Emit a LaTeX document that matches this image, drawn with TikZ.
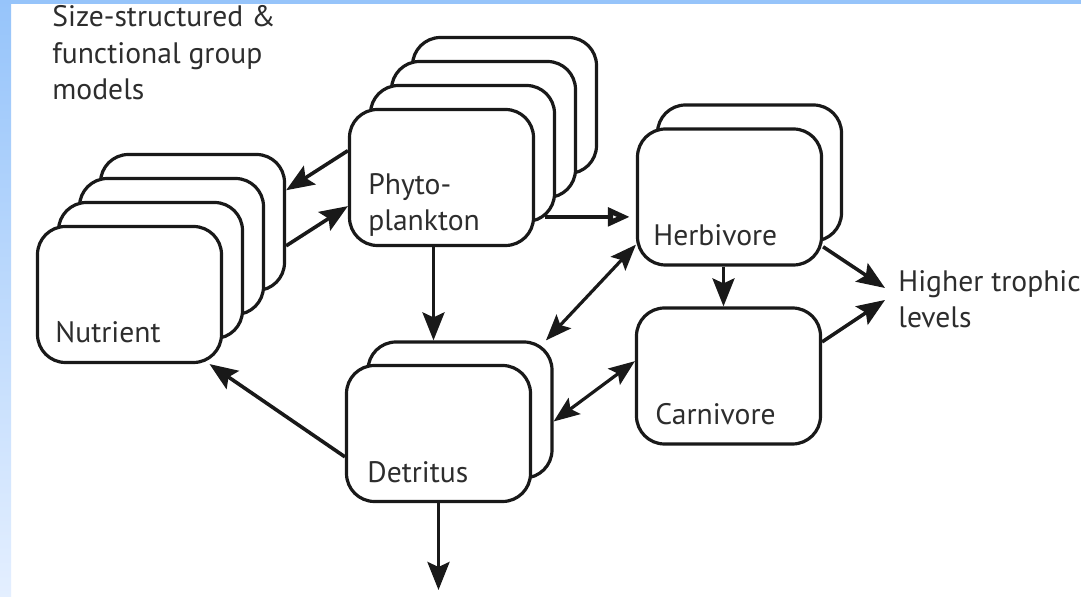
\documentclass[tikz,border=0pt]{standalone}
\usepackage{fontspec}
\setmainfont{PT Sans}
\usetikzlibrary{arrows.meta,calc}

\definecolor{slideblue}{RGB}{150,196,250}
\definecolor{slidepale}{RGB}{228,239,255}
\definecolor{inkgray}{RGB}{45,45,45}

\begin{document}
\begin{tikzpicture}[x=0.5pt, y=-0.5pt,
    card/.style={draw=black!90, fill=white, line width=1.6pt, rounded corners=14pt,
      minimum width=92pt, minimum height=68pt},
    lbl/.style={inner sep=0pt, text=inkgray, font=\fontsize{14.8}{18.3}\selectfont},
    arr/.style={line width=1.8pt, draw=black!90, -{Stealth[length=14pt, width=11pt, inset=2.5pt]}},
    darr/.style={line width=1.6pt, draw=black!90, {Stealth[length=13pt, width=10pt, inset=2.5pt]}-{Stealth[length=13pt, width=10pt, inset=2.5pt]}},
    oarr/.style={line width=1.9pt, draw=black!90, -{Triangle[open, length=11pt, width=9pt, line width=2.6pt]}}]
  % slide frame
  \useasboundingbox (0,0) rectangle (1081,597);
  \fill[white] (0,0) rectangle (1081,597);
  \shade[top color=slideblue, bottom color=slidepale] (0,0) rectangle (11,597);
  \fill[slideblue] (0,0) rectangle (1081,4);

  % nutrient stack
  \node[card] (nut3) at (192.5,222.5) {};
  \node[card] (nut2) at (171.5,246.5) {};
  \node[card] (nut1) at (150.5,270.5) {};
  \node[card] (nut)  at (129.5,294.5) {};
  % phytoplankton stack
  \node[card] (phy3) at (504.5,105.5) {};
  \node[card] (phy2) at (483.5,129.5) {};
  \node[card] (phy1) at (462.5,153.5) {};
  \node[card] (phy)  at (441.5,177.5) {};
  % herbivore, detritus, carnivore
  \node[card] (herb1) at (749.5,173) {};
  \node[card] (herb)  at (729.5,197) {};
  \node[card] (det1) at (460,410) {};
  \node[card] (det)  at (438.5,433.5) {};
  \node[card] (carn) at (728.5,376) {};

  % texts (base of a multi-line node = its last line)
  \node[lbl, anchor=base west] (nutT) at (55,343) {Nutrient};
  \node[lbl, anchor=base west, align=left] (phyT) at (368,231) {Phyto-\\plankton};
  \node[lbl, anchor=base west] (herbT) at (653,246) {Herbivore};
  \node[lbl, anchor=base west] (carnT) at (655,425) {Carnivore};
  \node[lbl, anchor=base west] (detT) at (367,483) {Detritus};
  \node[lbl, anchor=base west, align=left] (high) at (898,328) {Higher trophic\\levels};
  \node[lbl, anchor=base west, align=left] (title) at (52,100) {Size-structured \&\\functional group\\models};
  \coordinate (sink) at (438.5,590);

  % fluxes
  \draw[arr] (phy.164) -- (nut3.19);
  \draw[arr] (nut3.-14) -- (phy.197);
  \draw[oarr] ($(herb.192 -| phy1.east)+(-11,0)$) -- ($(herb.192)+(-6,0)$);
  \draw[arr] ($(phy.south)+(-8,0)$) -- ($(phy.south |- det1.north)+(-8,0)$);
  \draw[darr] (det1.39) -- (herb.207);
  \draw[darr] (det1.-7) -- (carn.171);
  \draw[arr] ($(herb.south)+(-6,0)$) -- ($(carn.north)+(-5,0)$);
  \draw[arr] (herb.-28) -- ($(high.base west)+(-13,-40)$);
  \draw[arr] (carn.20) -- ($(high.base west)+(-13,-28)$);
  \draw[arr] (det.194) -- (nut.-41);
  \draw[arr] (det.south) -- (sink);
\end{tikzpicture}
\end{document}
